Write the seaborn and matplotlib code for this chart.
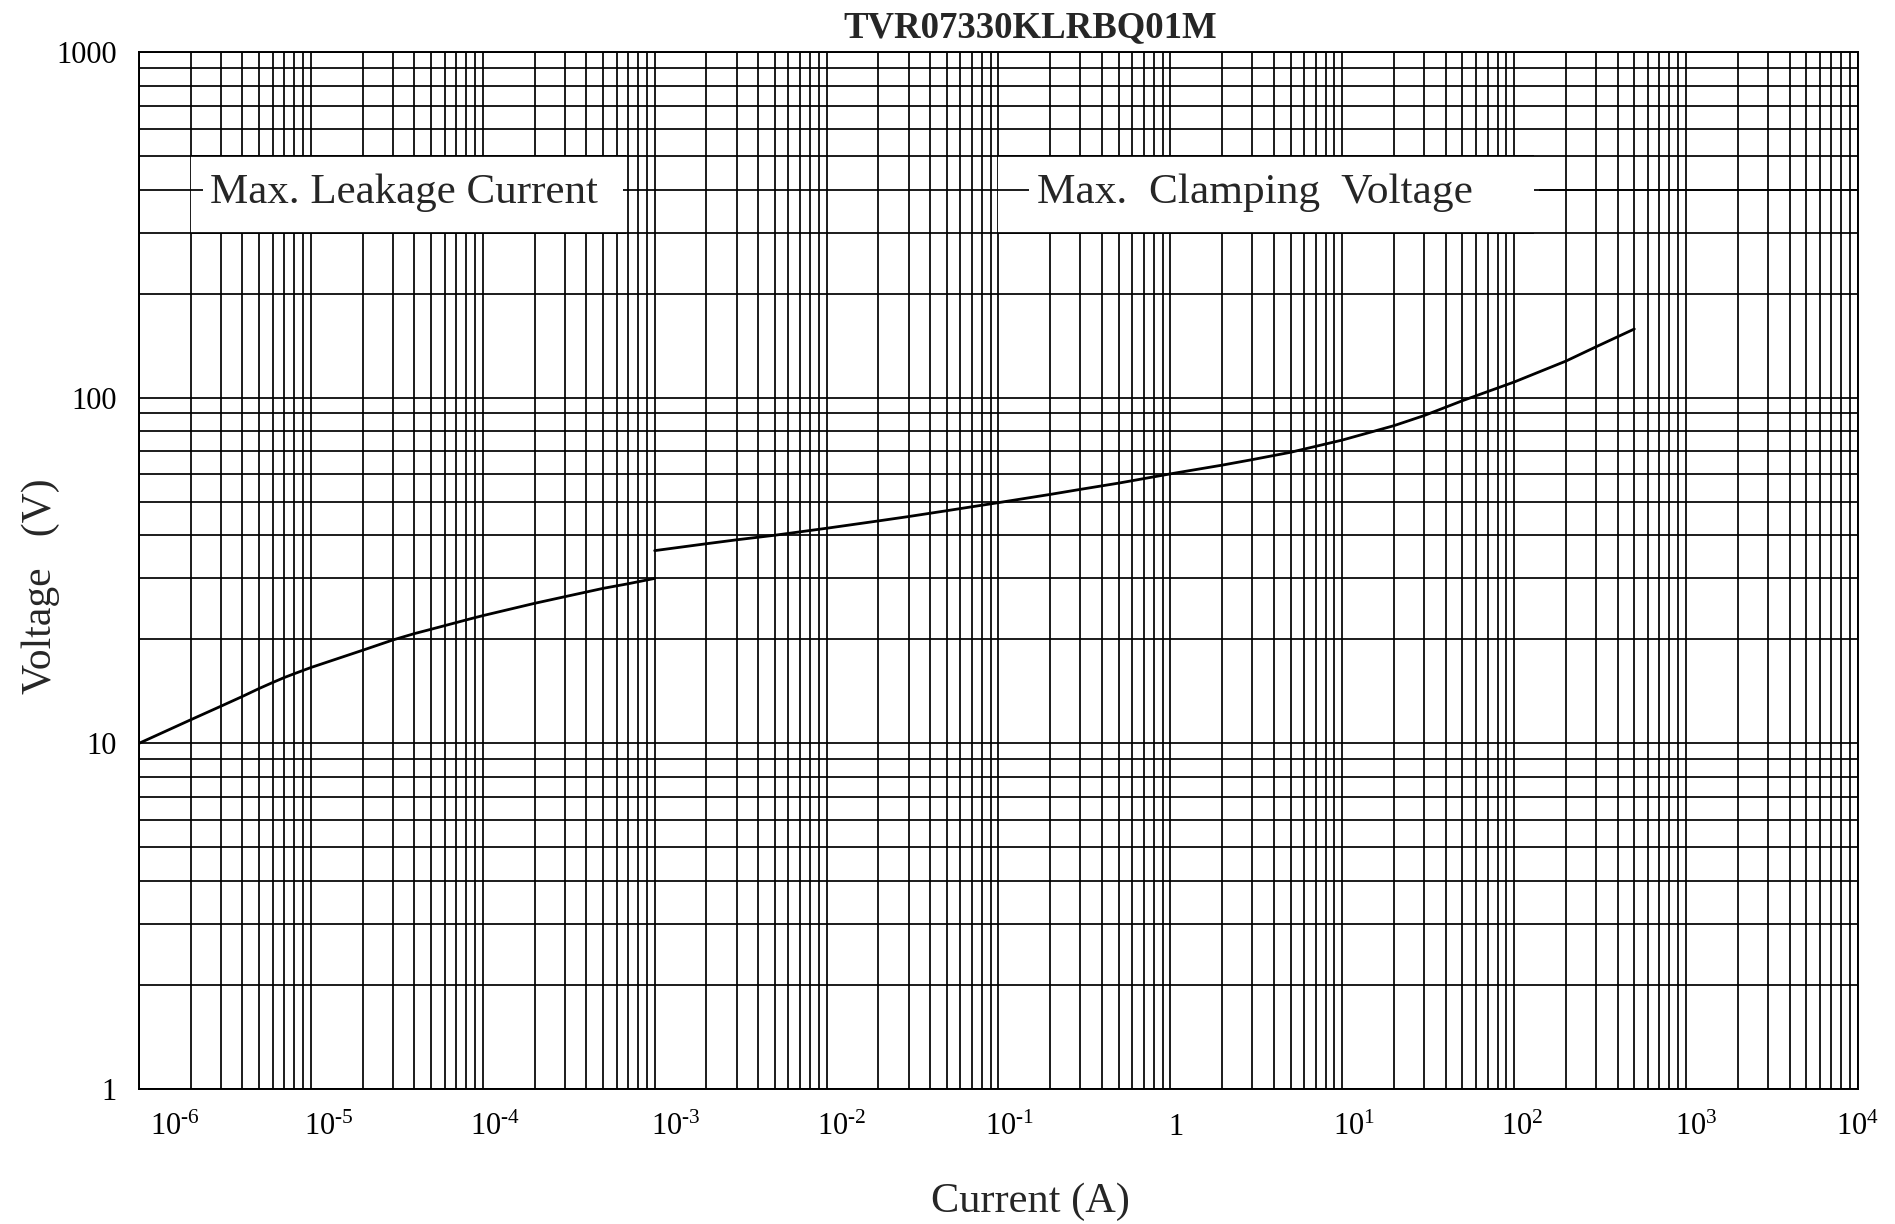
import numpy as np
import pandas as pd
import matplotlib
matplotlib.use("Agg")
import matplotlib.pyplot as plt
import matplotlib.transforms as mtransforms
from matplotlib.patches import Rectangle
from matplotlib.ticker import LogLocator, NullFormatter, FixedLocator, FixedFormatter
import seaborn as sns

# ---------------- data ----------------
title = "TVR07330KLRBQ01M"
x_label = "Current (A)"
y_label = "Voltage   (V)"
leak_label = "Max. Leakage Current"
clamp_label = "Max.  Clamping  Voltage"

leak_current = [1e-6, 2e-6, 3e-6, 4e-6, 5e-6, 6e-6, 7e-6, 8e-6, 9e-6, 1e-5,
                2e-5, 3e-5, 4e-5, 5e-5, 6e-5, 7e-5, 8e-5, 9e-5, 1e-4,
                2e-4, 3e-4, 4e-4, 5e-4, 7e-4, 1e-3]
leak_voltage = [10.0, 11.7, 12.81, 13.67, 14.41, 15.0, 15.5, 15.9, 16.25, 16.57,
                18.59, 19.91, 20.77, 21.38, 21.9, 22.35, 22.75, 23.1, 23.41,
                25.41, 26.56, 27.4, 28.07, 28.95, 30.0]

clamp_current = [1e-3, 2e-3, 3e-3, 5e-3, 1e-2, 2e-2, 3e-2, 5e-2, 1e-1, 2e-1, 3e-1, 5e-1,
                 1, 2, 3, 5, 7, 10, 20, 30, 50, 100, 200, 300, 500]
clamp_voltage = [36.1, 37.8, 38.8, 40.0, 41.9, 44.0, 45.3, 47.1, 49.7, 52.5, 54.3, 56.6,
                 60.2, 63.8, 66.2, 69.5, 72.3, 75.4, 83.0, 88.8, 98.0, 111.0, 127.6,
                 140.4, 158.0]

x_ticks = [1e-6, 1e-5, 1e-4, 1e-3, 1e-2, 1e-1, 1, 1e1, 1e2, 1e3, 1e4]
x_tick_labels = ["$\\mathregular{10^{\u20106}}$", "$\\mathregular{10^{\u20105}}$",
                 "$\\mathregular{10^{\u20104}}$", "$\\mathregular{10^{\u20103}}$",
                 "$\\mathregular{10^{\u20102}}$", "$\\mathregular{10^{\u20101}}$",
                 "1", r"$\mathregular{10^{1}}$", r"$\mathregular{10^{2}}$",
                 r"$\mathregular{10^{3}}$", r"$\mathregular{10^{4}}$"]
y_ticks = [1, 10, 100, 1000]
y_tick_labels = ["1", "10", "100", "1000"]

# ---------------- style ----------------
sns.set_style("white")
plt.rcParams["font.family"] = ["Liberation Serif", "DejaVu Serif"]
plt.rcParams["mathtext.fontset"] = "custom"
plt.rcParams["mathtext.rm"] = "Liberation Serif"
plt.rcParams["mathtext.it"] = "Liberation Serif:italic"
plt.rcParams["mathtext.bf"] = "Liberation Serif:bold"

GRID_LW = 1.25

fig = plt.figure(figsize=(18.95, 12.24), dpi=100)
ax = fig.add_axes([0.07335, 0.1103, 0.9071, 0.8472])
ax.set_xscale("log")
ax.set_yscale("log")

df_leak = pd.DataFrame({"Current": leak_current, "Voltage": leak_voltage})
df_clamp = pd.DataFrame({"Current": clamp_current, "Voltage": clamp_voltage})
sns.lineplot(data=df_leak, x="Current", y="Voltage", ax=ax, color="black", lw=2.0,
             sort=False, estimator=None, zorder=5)
sns.lineplot(data=df_clamp, x="Current", y="Voltage", ax=ax, color="black", lw=2.0,
             sort=False, estimator=None, zorder=5)

ax.set_xlim(1e-6, 1e4)
ax.set_ylim(1, 1000)

ax.xaxis.set_major_locator(FixedLocator(x_ticks))
ax.xaxis.set_major_formatter(FixedFormatter(x_tick_labels))
ax.xaxis.set_minor_locator(LogLocator(base=10, subs=np.arange(2, 10), numticks=100))
ax.xaxis.set_minor_formatter(NullFormatter())
ax.yaxis.set_major_locator(FixedLocator(y_ticks))
ax.yaxis.set_major_formatter(FixedFormatter(y_tick_labels))
ax.yaxis.set_minor_locator(LogLocator(base=10, subs=np.arange(2, 10), numticks=100))
ax.yaxis.set_minor_formatter(NullFormatter())

ax.set_axisbelow(True)
ax.grid(True, which="both", color="black", lw=GRID_LW)
ax.tick_params(which="both", length=0, labelsize=22, colors="black")
ax.tick_params(axis="x", pad=17)
ax.tick_params(axis="y", pad=16)
for s in ax.spines.values():
    s.set_color("black")
    s.set_linewidth(1.4)

# white label boxes covering the grid
boxes = [(2e-6, 6.8e-4), (0.1, 130)]
for x0, x1 in boxes:
    ax.add_patch(Rectangle((x0, 300), x1 - x0, 200, facecolor="white",
                           edgecolor="none", zorder=1))
    ax.hlines([300, 500], x0, x1, color="black", lw=GRID_LW, zorder=1.5)
ax.hlines(400, 2e-6, 2.36e-6, color="black", lw=GRID_LW, zorder=1.5)
ax.hlines(400, 6.55e-4, 6.8e-4, color="black", lw=GRID_LW, zorder=1.5)
ax.hlines(400, 0.1, 0.151, color="black", lw=GRID_LW, zorder=1.5)
ax.hlines(400, 139, 1e4, color="black", lw=GRID_LW, zorder=1.5)

ax.text(2.59e-6, 366, leak_label, fontsize=31, ha="left", va="baseline", zorder=3)
ax.text(0.1675, 366, clamp_label, fontsize=31.2, ha="left", va="baseline", zorder=3)

# tick label offsets (px)
offsets = [36, 18, 12, 21, 15, 11, 6, 12, 8, 10, 0]
for lab, dx in zip(ax.get_xticklabels(), offsets):
    lab.set_transform(lab.get_transform() +
                      mtransforms.ScaledTranslation(dx / 100.0, 0, fig.dpi_scale_trans))

ax.set_title(title, fontsize=26.5, fontweight="bold", x=0.5185, y=1.0145,
             va="baseline", pad=0)
ax.set_xlabel(x_label, fontsize=30.5)
ax.xaxis.set_label_coords(0.5185, -0.1186)
ax.xaxis.label.set_verticalalignment("baseline")
ax.set_ylabel(y_label, fontsize=30)
ax.yaxis.set_label_coords(-0.0512, 0.485)
ax.yaxis.label.set_verticalalignment("baseline")

fig.savefig("out.png", dpi=100, facecolor="white")
